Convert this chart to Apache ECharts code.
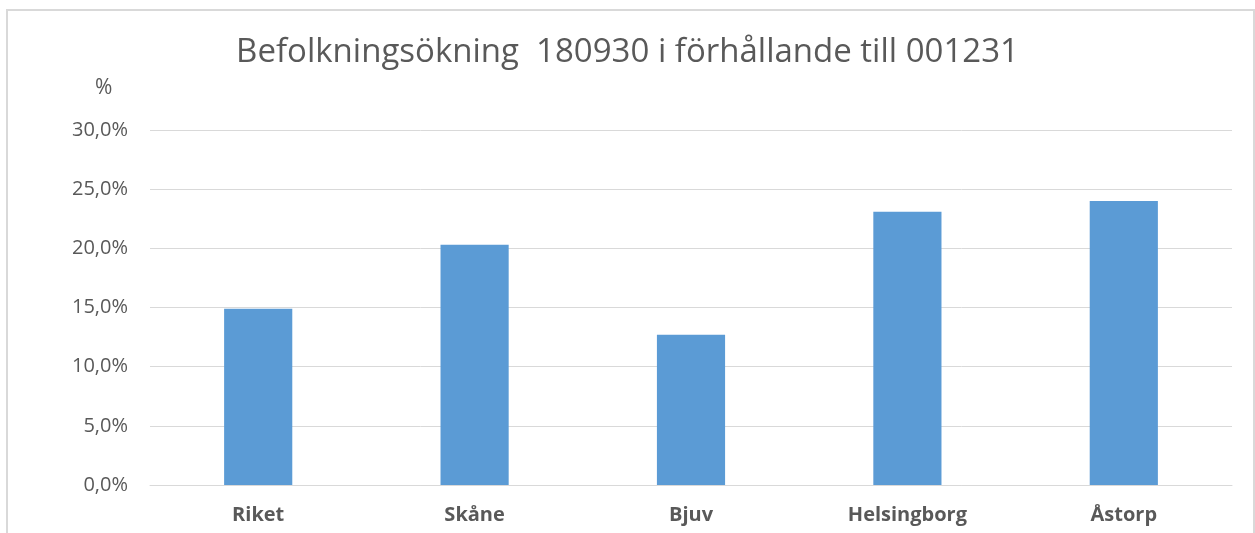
<!DOCTYPE html>
<html><head><meta charset="utf-8">
<script src="https://cdn.jsdelivr.net/npm/echarts@6/dist/echarts.min.js"></script>
<style>html,body{margin:0;padding:0;background:#fff}#c{width:1255px;height:533px}</style>
</head><body><div id="c"></div>
<script>
const categories = ['Riket', 'Skåne', 'Bjuv', 'Helsingborg', 'Åstorp'];
const values = [14.9, 20.3, 12.7, 23.1, 24.0];
const titleText = 'Befolkningsökning  180930 i förhållande till 001231';
const unitLabel = '%';

const chart = echarts.init(document.getElementById('c'));
chart.setOption({
  animation: false,
  backgroundColor: '#fff',
  title: {
    text: titleText, left: 'center', top: 31,
    textStyle: { fontFamily: 'Open Sans', fontSize: 33, fontWeight: 'normal', color: '#595959' }
  },
  graphic: [
    { type: 'rect', shape: { x: 7, y: 10, width: 1247, height: 560 }, style: { fill: 'none', stroke: '#D9D9D9', lineWidth: 2 }, silent: true },
    { type: 'text', left: 95, top: 78, style: { text: unitLabel, fontFamily: 'Open Sans', fontSize: 21, fill: '#595959' } }
  ],
  grid: { left: 150, right: 23, top: 130, bottom: 48 },
  xAxis: {
    type: 'category', data: categories,
    axisLine: { lineStyle: { color: '#D9D9D9', width: 1 } },
    axisTick: { show: false },
    axisLabel: { fontFamily: 'Open Sans', fontSize: 20, fontWeight: 'bold', color: '#595959', margin: 20 }
  },
  yAxis: {
    type: 'value', min: 0, max: 30, interval: 5,
    axisLine: { show: false }, axisTick: { show: false },
    splitLine: { lineStyle: { color: '#D9D9D9', width: 1 } },
    axisLabel: { fontFamily: 'Open Sans', fontSize: 20, color: '#595959', margin: 22,
      formatter: v => v.toFixed(1).replace('.', ',') + '%' }
  },
  series: [{
    type: 'bar', data: values, barWidth: '31.5%',
    itemStyle: { color: '#5B9BD5' }
  }]
});
</script></body></html>
